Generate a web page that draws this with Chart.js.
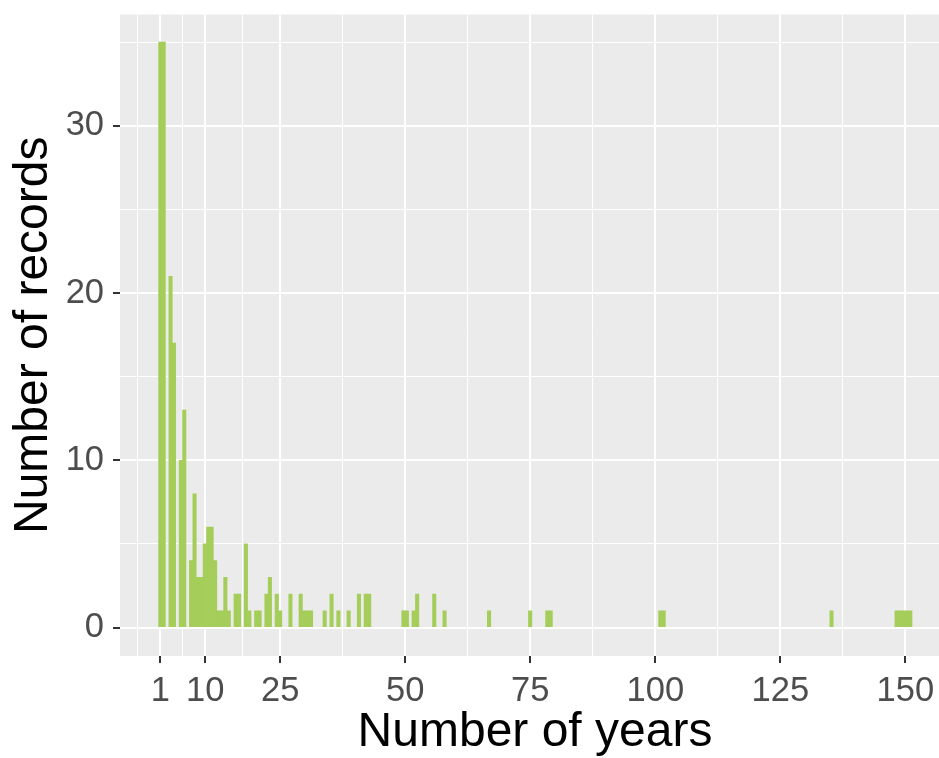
<html>
<head>
<meta charset="UTF-8">
<title>Number of records by number of years</title>
<script src="https://cdn.jsdelivr.net/npm/chart.js@4.4.1/dist/chart.umd.min.js"></script>
<style>
  body { margin: 0; background: #ffffff; }
  #wrap { width: 939px; height: 758px; overflow: hidden; }
</style>
</head>
<body>
<div id="wrap"><canvas id="myChart" width="950" height="758"></canvas></div>
<script>
// histogram bins (centre of each bin, in years) and the record count in it
var binCentres = [1.00, 1.68, 3.05, 3.74, 5.11, 5.79, 7.16, 7.85, 8.53, 9.22,
  9.90, 10.59, 11.27, 11.96, 12.64, 13.33, 14.01, 14.70, 16.07, 16.75,
  18.12, 18.81, 20.18, 20.86, 22.23, 22.92, 24.29, 24.97, 27.03, 29.08,
  29.77, 30.45, 31.14, 33.88, 35.25, 36.62, 38.67, 40.73, 42.10, 42.78,
  49.63, 50.32, 51.68, 52.37, 55.79, 57.85, 66.75, 74.97, 78.40, 79.08,
  101.00, 101.68, 135.25, 148.26, 148.95, 149.63, 150.32, 151.00];
var records = [35, 35, 21, 17, 10, 13, 4, 8, 3, 3,
  5, 6, 6, 4, 1, 1, 3, 1, 2, 2,
  5, 1, 1, 1, 2, 3, 2, 1, 2, 2,
  1, 1, 1, 1, 2, 1, 1, 2, 2, 2,
  1, 1, 1, 2, 2, 1, 1, 1, 1, 1,
  1, 1, 1, 1, 1, 1, 1, 1];

var xBreaks = [1, 10, 25, 50, 75, 100, 125, 150];
var xMinor = [-3.5, 5.5, 17.5, 37.5, 62.5, 87.5, 112.5, 137.5];
var yBreaks = [0, 10, 20, 30];
var yMinor = [5, 15, 25, 35];

var tickFont = { family: "'Liberation Sans', Arial, sans-serif", size: 34.5, lineHeight: 1 };
var titleFont = { family: "'Liberation Sans', Arial, sans-serif", size: 48, lineHeight: 1 };

function makeTicks(major, minor) {
  return major.concat(minor).sort(function(a, b) { return a - b; })
    .map(function(v) { return { value: v }; });
}
function isMajor(list, ctx) {
  return ctx.tick && list.indexOf(ctx.tick.value) !== -1;
}

var panelBg = {
  id: 'panelBg',
  beforeDraw: function(chart) {
    var a = chart.chartArea, c = chart.ctx;
    c.save();
    c.fillStyle = '#EBEBEB';
    c.fillRect(a.left, a.top, a.right - a.left, a.bottom - a.top);
    c.restore();
  }
};

var points = binCentres.map(function(x, i) { return { x: x, y: records[i] }; });

var ctx = document.getElementById('myChart').getContext('2d');
var chart = new Chart(ctx, {
  type: 'bar',
  data: {
    datasets: [{
      data: points,
      backgroundColor: '#A5CD5A',
      borderWidth: 0,
      categoryPercentage: 1,
      barPercentage: 1
    }]
  },
  options: {
    responsive: false,
    animation: false,
    layout: { padding: { top: 14.5, right: 0, bottom: 0, left: 0 } },
    plugins: { legend: { display: false }, tooltip: { enabled: false } },
    scales: {
      x: {
        type: 'linear',
        offset: false,
        min: -7.06,
        max: 158.94,
        afterBuildTicks: function(axis) { axis.ticks = makeTicks(xBreaks, xMinor); },
        afterFit: function(axis) {
          axis.height = 102;
          axis.paddingLeft = 0; axis.paddingRight = 0;
          axis.paddingTop = 0; axis.paddingBottom = 0;
        },
        border: { display: false },
        grid: {
          offset: false,
          color: '#FFFFFF',
          lineWidth: function(c) { return isMajor(xBreaks, c) ? 2 : 1; },
          tickLength: 7,
          tickColor: function(c) { return isMajor(xBreaks, c) ? '#333333' : 'rgba(0,0,0,0)'; },
          tickWidth: 2
        },
        ticks: {
          autoSkip: false,
          maxRotation: 0,
          padding: 11,
          color: '#4D4D4D',
          font: tickFont,
          callback: function(v) { return xBreaks.indexOf(v) !== -1 ? String(v) : ''; }
        },
        title: {
          display: true,
          text: 'Number of years',
          color: '#000000',
          font: titleFont,
          padding: { top: 0, bottom: 1 }
        }
      },
      y: {
        min: -1.7,
        max: 36.65,
        afterBuildTicks: function(axis) { axis.ticks = makeTicks(yBreaks, yMinor); },
        afterFit: function(axis) {
          axis.width = 120;
          axis.paddingLeft = 0; axis.paddingRight = 0;
          axis.paddingTop = 0; axis.paddingBottom = 0;
        },
        border: { display: false },
        grid: {
          color: '#FFFFFF',
          lineWidth: function(c) { return isMajor(yBreaks, c) ? 2 : 1; },
          tickLength: 7,
          tickColor: function(c) { return isMajor(yBreaks, c) ? '#333333' : 'rgba(0,0,0,0)'; },
          tickWidth: 2
        },
        ticks: {
          padding: 9,
          color: '#4D4D4D',
          font: tickFont,
          callback: function(v) { return yBreaks.indexOf(v) !== -1 ? String(v) : ''; }
        },
        title: {
          display: true,
          text: 'Number of records',
          color: '#000000',
          font: titleFont,
          padding: { top: 10, bottom: 0 }
        }
      }
    }
  },
  plugins: [panelBg]
});
</script>
</body>
</html>
